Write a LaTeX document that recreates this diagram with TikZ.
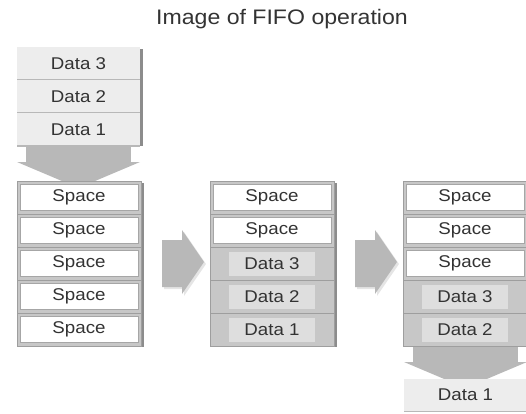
\documentclass[tikz,border=0pt]{standalone}
\usepackage{fontspec}
\setmainfont[FakeStretch=1.1]{Liberation Sans}
\usetikzlibrary{positioning}

\tikzset{
  cellfont/.style={font=\fontsize{17}{20}\selectfont, text=black!80},
  cellbox/.style={cellfont, fill=black!22, draw=black!38, minimum width=124pt,
    minimum height=33pt, inner sep=0pt, outer sep=0pt},
  spacecell/.style={cellbox, path picture={
    \filldraw[fill=white, draw=black!35]
      ([shift={(-59pt,-13pt)}]path picture bounding box.center) rectangle
      ([shift={(59pt,13pt)}]path picture bounding box.center);}},
  datacell/.style={cellbox, path picture={
    \fill[black!13]
      ([shift={(-43pt,-12pt)}]path picture bounding box.center) rectangle
      ([shift={(43pt,12pt)}]path picture bounding box.center);}},
  incell/.style={cellfont, fill=black!7, minimum width=123pt, minimum height=33pt,
    inner sep=0pt, outer sep=0pt, path picture={
    \draw[black!28, line width=1.2pt] (path picture bounding box.south west) --
      (path picture bounding box.south east);}},
  colshadow/.style={fill=black!45},
  blockarrow/.style={fill=black!28},
  arrowshadow/.style={fill=black!10}
}

\begin{document}
\begin{tikzpicture}[x=1pt,y=-1pt]
    \useasboundingbox (0,0) rectangle (526,413);

    \node[font=\fontsize{21}{24}\selectfont, text=black!80] (title) at (282,19) {Image of FIFO operation};

    % data waiting to go in
    \fill[colshadow] (140,49) rectangle (143,146); % shadow
    \node[incell] (in3) at (78.5,63.5) {Data 3};
    \node[incell, below=0pt of in3] (in2) {Data 2};
    \node[incell, below=0pt of in2] (in1) {Data 1};

    % arrow down into the first buffer
    \fill[blockarrow] (26,146) rectangle (131,162); % stem
    \fill[blockarrow] (17,162) -- (140,162) -- (78.5,188) -- cycle; % head

    % first buffer: all empty
    \fill[colshadow] (141,183) rectangle (144,347); % shadow
    \node[spacecell] (a1) at (79,197.5) {Space};
    \node[spacecell, below=0pt of a1] (a2) {Space};
    \node[spacecell, below=0pt of a2] (a3) {Space};
    \node[spacecell, below=0pt of a3] (a4) {Space};
    \node[spacecell, below=0pt of a4] (a5) {Space};

    % first step arrow
    \fill[arrowshadow] (164,242) -- (184,242) -- (184,232) -- (206,264) -- (184,296) -- (184,289) -- (164,289) -- cycle;
    \fill[blockarrow] (162,240) -- (182,240) -- (182,230) -- (204,262) -- (182,294) -- (182,287) -- (162,287) -- cycle;

    % second buffer: three data in
    \fill[colshadow] (334,183) rectangle (337,347); % shadow
    \node[spacecell] (b1) at (272,197.5) {Space};
    \node[spacecell, below=0pt of b1] (b2) {Space};
    \node[datacell, below=0pt of b2] (b3) {Data 3};
    \node[datacell, below=0pt of b3] (b4) {Data 2};
    \node[datacell, below=0pt of b4] (b5) {Data 1};

    % second step arrow
    \fill[arrowshadow] (357,242) -- (377,242) -- (377,232) -- (399,264) -- (377,296) -- (377,289) -- (357,289) -- cycle;
    \fill[blockarrow] (355,240) -- (375,240) -- (375,230) -- (397,262) -- (375,294) -- (375,287) -- (355,287) -- cycle;

    % arrow down out of the third buffer
    \fill[blockarrow] (413,346) rectangle (518,362); % stem
    \fill[blockarrow] (404,362) -- (527,362) -- (465.5,388) -- cycle; % head

    % third buffer: first data out
    \node[spacecell] (c1) at (465,197.5) {Space};
    \node[spacecell, below=0pt of c1] (c2) {Space};
    \node[spacecell, below=0pt of c2] (c3) {Space};
    \node[datacell, below=0pt of c3] (c4) {Data 3};
    \node[datacell, below=0pt of c4] (c5) {Data 2};

    \node[incell] (out1) at (465.5,395) {Data 1};
\end{tikzpicture}
\end{document}
